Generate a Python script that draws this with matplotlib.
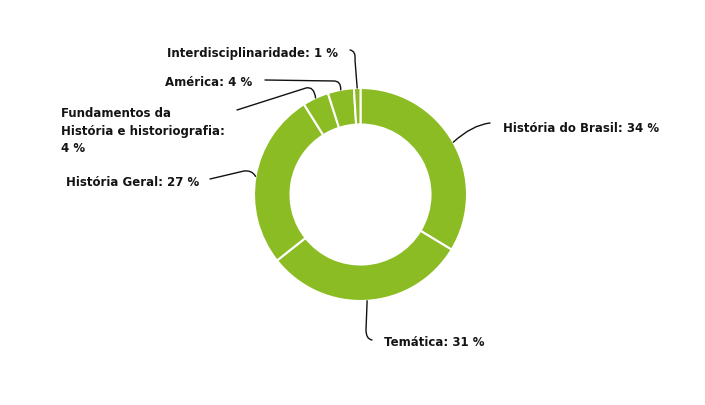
import matplotlib
matplotlib.use("Agg")
import matplotlib.pyplot as plt
import numpy as np
from matplotlib.path import Path
from matplotlib.patches import PathPatch

categories = ["História do Brasil", "Temática", "História Geral",
              "Fundamentos da\nHistória e historiografia", "América",
              "Interdisciplinaridade"]
values = [34, 31, 27, 4, 4, 1]
label_sep = [": ", ": ", ": ", ":\n", ": ", ": "]

W, H = 705, 405
fig = plt.figure(figsize=(W / 100, H / 100), dpi=100)
ax = fig.add_axes([0, 0, 1, 1])
ax.set_xlim(0, W)
ax.set_ylim(0, H)
ax.set_aspect("equal")
ax.axis("off")

def P(x, y):
    return (x, H - y)

cx, cy = P(360.5, 194.5)
R = 106.5
ring = 36.5
green = "#8cbc24"

wedges, _ = ax.pie(values, startangle=90, counterclock=False, center=(cx, cy),
                   radius=R, colors=[green] * len(values),
                   wedgeprops=dict(width=ring, edgecolor="white", linewidth=1.5))
ax.set_xlim(0, W)
ax.set_ylim(0, H)

def anchor(w):
    ang = np.deg2rad((w.theta1 + w.theta2) / 2)
    return (cx + R * np.cos(ang), cy + R * np.sin(ang))

leaders = {
    0: dict(start=P(490, 123), ctrl=[P(472, 125)], straight=None),
    1: dict(start=P(372, 340), ctrl=[P(366, 339)], straight=P(366, 330)),
    2: dict(start=P(210, 179), ctrl=[P(252, 170)], straight=P(244, 171)),
    3: dict(start=P(237, 110), ctrl=[P(314, 86)], straight=P(306, 88)),
    4: dict(start=P(265, 80), ctrl=[P(341, 81)], straight=P(334, 81)),
    5: dict(start=P(350, 50), ctrl=[P(356, 51)], straight=P(355, 60)),
}

def draw_leader(i, w):
    a = anchor(w)
    L = leaders[i]
    verts = [L["start"]]
    codes = [Path.MOVETO]
    if i == 5:
        verts += [L["ctrl"][0], L["straight"], a]
        codes += [Path.CURVE3, Path.CURVE3, Path.LINETO]
    elif i == 1:
        verts = [a, L["straight"], L["ctrl"][0], L["start"]]
        codes = [Path.MOVETO, Path.LINETO, Path.CURVE3, Path.CURVE3]
    elif L["straight"] is not None:
        verts += [L["straight"], L["ctrl"][0], a]
        codes += [Path.LINETO, Path.CURVE3, Path.CURVE3]
    else:
        verts += [L["ctrl"][0], a]
        codes += [Path.CURVE3, Path.CURVE3]
    ax.add_patch(PathPatch(Path(verts, codes), fill=False, lw=1.0,
                           edgecolor="#111111", capstyle="round"))

for i, w in enumerate(wedges):
    draw_leader(i, w)

text_pos = [P(503, 128), P(384, 342), P(66, 182), P(61, 131), P(165, 83), P(167, 53)]
font = dict(family=["DejaVu Sans"], fontsize=8.5, fontweight="bold", color="#141414")
for i, (cat, v) in enumerate(zip(categories, values)):
    txt = f"{cat}{label_sep[i]}{v} %"
    ax.text(text_pos[i][0], text_pos[i][1], txt, ha="left", va="center",
            linespacing=1.45, **font)

fig.savefig("out.png", dpi=100)
